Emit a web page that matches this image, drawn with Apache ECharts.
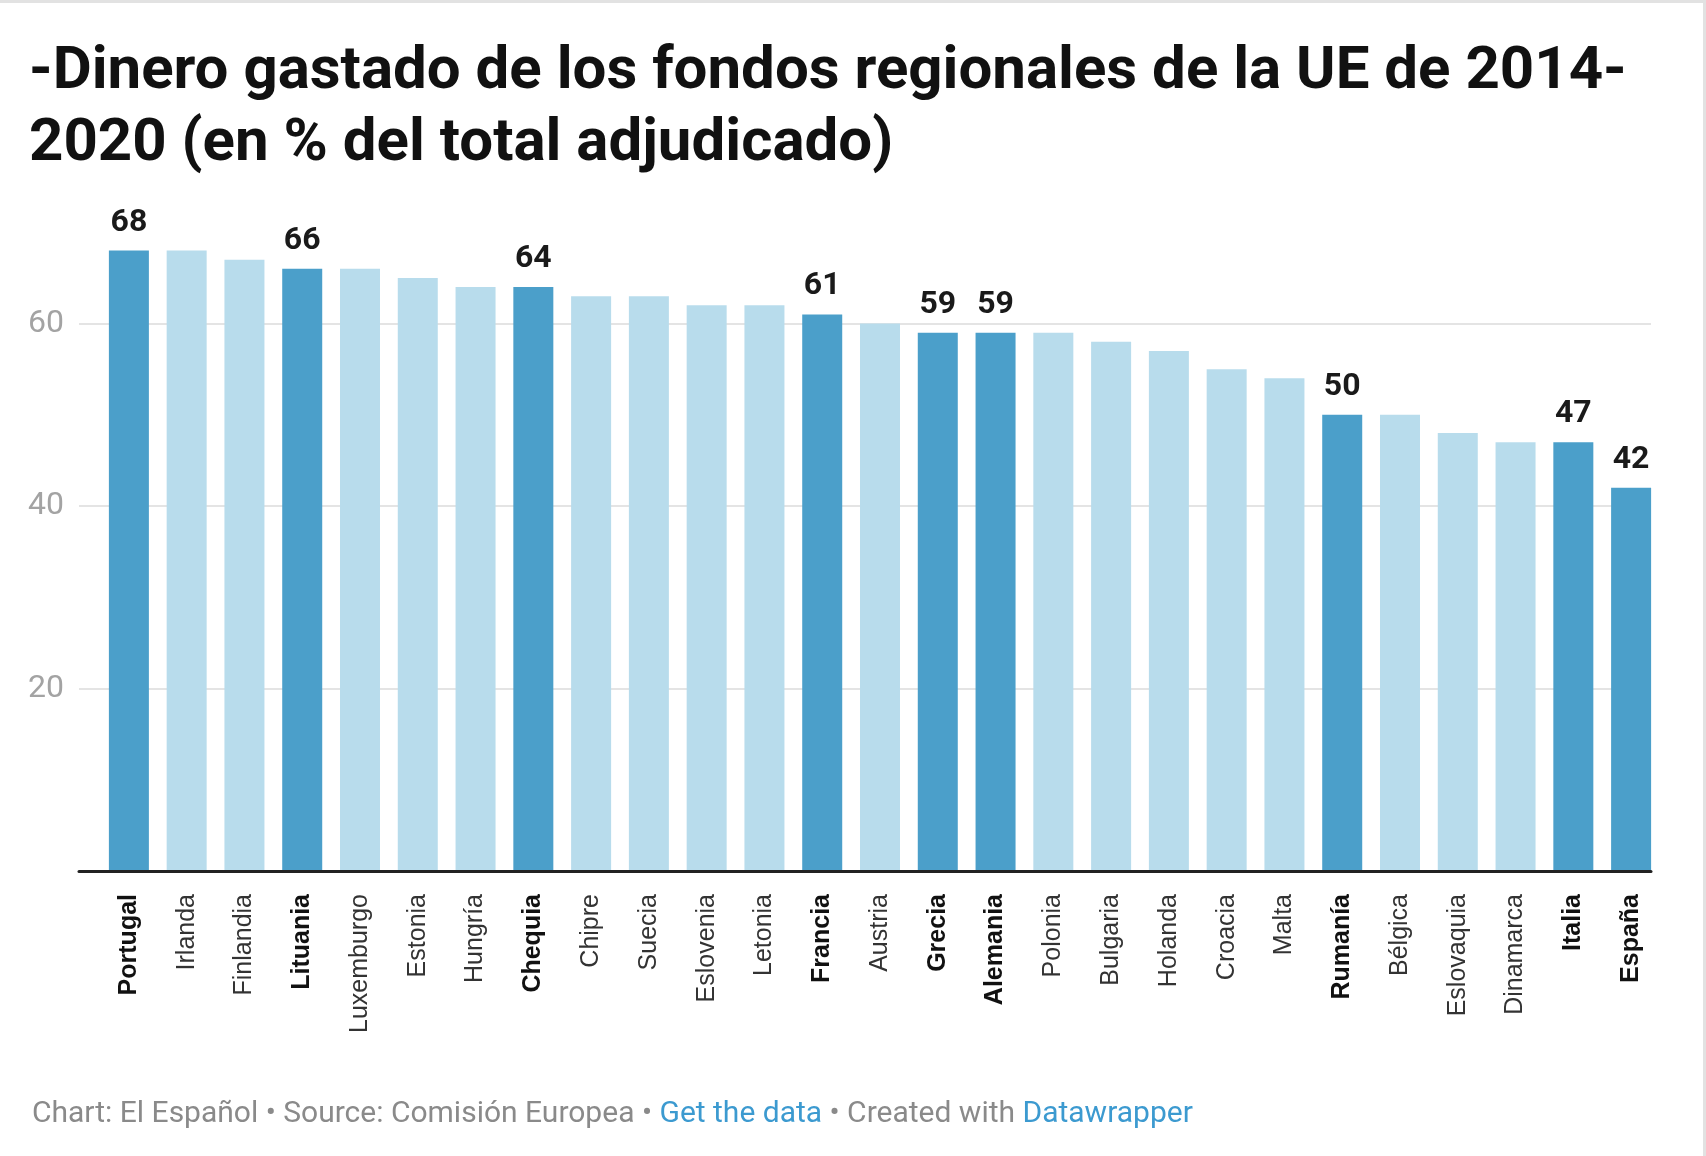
<!DOCTYPE html>
<html>
<head>
<meta charset="UTF-8">
<title>fondos UE</title>
<script src="https://cdn.jsdelivr.net/npm/echarts@6/dist/echarts.min.js"></script>
<style>
	html, body { margin: 0; padding: 0; background: #fff; }
	#chart { width: 1706px; height: 1156px; }
</style>
</head>
<body>
<div id="chart"></div>
<script>
// datos
var paises = ['Portugal', 'Irlanda', 'Finlandia', 'Lituania', 'Luxemburgo', 'Estonia', 'Hungría', 'Chequia', 'Chipre',
	'Suecia', 'Eslovenia', 'Letonia', 'Francia', 'Austria', 'Grecia', 'Alemania', 'Polonia', 'Bulgaria', 'Holanda',
	'Croacia', 'Malta', 'Rumanía', 'Bélgica', 'Eslovaquia', 'Dinamarca', 'Italia', 'España'];
var gastado = [68, 68, 67, 66, 66, 65, 64, 64, 63, 63, 62, 62, 61, 60, 59, 59, 59, 58, 57, 55, 54, 50, 50, 48, 47, 47, 42];
var destacados = ['Portugal', 'Lituania', 'Chequia', 'Francia', 'Grecia', 'Alemania', 'Rumanía', 'Italia', 'España'];
var ticksY = [20, 40, 60];

var oscuro = '#4b9fca';
var claro = '#b8dcec';

var barras = [];
for (var i = 0; i < paises.length; i++) {
	var dest = destacados.indexOf(paises[i]) >= 0;
	barras.push({
		value: gastado[i],
		itemStyle: { color: dest ? oscuro : claro },
		label: { show: dest }
	});
}

var myChart = echarts.init(document.getElementById('chart'));
var option = {
	backgroundColor: '#fff',
	animation: false,
	title: [{
		text: '-Dinero gastado de los fondos regionales de la UE de 2014-\n2020 (en % del total adjudicado)',
		left: 24,
		top: 32,
		textStyle: {
			fontFamily: 'Roboto',
			fontWeight: 'bold',
			fontSize: 60,
			lineHeight: 72,
			color: '#111'
		}
	}, {
		text: '{g|Chart: El Español • Source: Comisión Europea • }{b|Get the data}{g| • Created with }{b|Datawrapper}',
		left: 27,
		top: 1094,
		textStyle: {
			fontWeight: 'normal',
			rich: {
				g: { fontFamily: 'Roboto', fontWeight: 'normal', fontSize: 30, color: '#8a8a8a' },
				b: { fontFamily: 'Roboto', fontWeight: 'normal', fontSize: 30, color: '#3c9ad0' }
			}
		}
	}],
	graphic: [
		{ type: 'rect', shape: { x: 0, y: 0, width: 1706, height: 3 }, style: { fill: '#e2e2e2' } },
		{ type: 'rect', shape: { x: 1703, y: 0, width: 3, height: 1156 }, style: { fill: '#e2e2e2' } }
	],
	grid: [
		{ left: 79, right: 55, top: 141, bottom: 285 },
		{ left: 100, right: 46, top: 141, bottom: 285 }
	],
	xAxis: [{
		type: 'category',
		gridIndex: 0,
		data: paises,
		axisLine: { lineStyle: { color: '#222', width: 3 } },
		axisTick: { show: false },
		axisLabel: { show: false },
		z: 5
	}, {
		type: 'category',
		gridIndex: 1,
		data: paises,
		axisLine: { show: false },
		axisTick: { show: false },
		axisLabel: {
			rotate: 90,
			margin: 23,
			interval: 0,
			formatter: function (v) {
				return destacados.indexOf(v) >= 0 ? '{b|' + v + '}' : '{n|' + v + '}';
			},
			rich: {
				n: { fontFamily: 'Liberation Sans', fontSize: 25, color: '#333' },
				b: { fontFamily: 'Liberation Sans', fontSize: 25, fontWeight: 'bold', color: '#111' }
			}
		}
	}],
	yAxis: [{
		type: 'value',
		gridIndex: 0,
		min: 0,
		max: 80,
		interval: 20,
		axisLine: { show: false },
		axisTick: { show: false },
		axisLabel: {
			margin: 15,
			fontFamily: 'Roboto',
			fontSize: 32,
			color: '#a3a3a3',
			formatter: function (v) { return ticksY.indexOf(v) >= 0 ? String(v) : ''; }
		},
		splitLine: {
			showMinLine: false,
			showMaxLine: false,
			lineStyle: { color: '#e4e4e4', width: 2 }
		}
	}, {
		type: 'value',
		gridIndex: 1,
		min: 0,
		max: 80,
		interval: 20,
		show: false,
		splitLine: { show: false }
	}],
	series: [{
		type: 'bar',
		xAxisIndex: 1,
		yAxisIndex: 1,
		barWidth: 40,
		data: barras,
		label: {
			position: 'top',
			distance: 12,
			fontFamily: 'Roboto',
			fontWeight: 'bold',
			fontSize: 32,
			color: '#1a1a1a'
		}
	}]
};
myChart.setOption(option);
</script>
</body>
</html>
